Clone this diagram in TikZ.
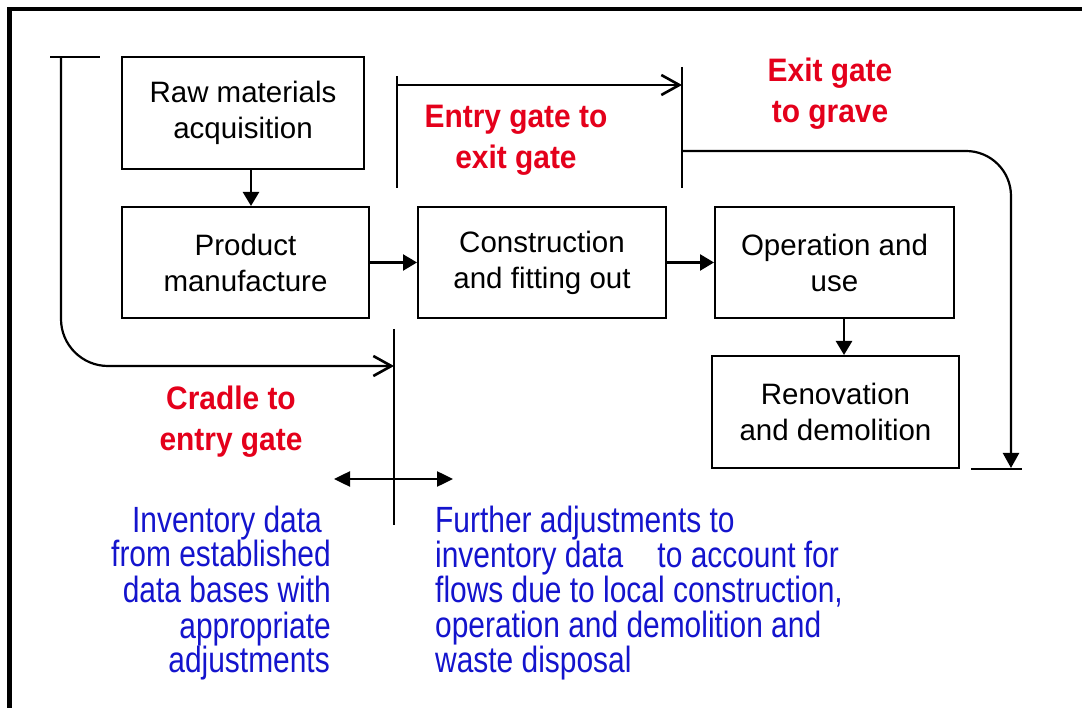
\documentclass[tikz,border=0pt]{standalone}
\usepackage{fontspec}
\setmainfont{Liberation Sans}
\newfontfamily\narrowsans{Liberation Sans}[FakeStretch=0.82]
\newfontfamily\redsans{Liberation Sans}[FakeStretch=0.92]
\usetikzlibrary{arrows.meta}
\definecolor{labelred}{RGB}{228,0,27}
\definecolor{textblue}{RGB}{20,20,205}
\begin{document}
\begin{tikzpicture}[x=1pt,y=-1pt,
  stage/.style={draw,line width=2pt,inner sep=0pt,align=center,font=\fontsize{29.5}{36}\selectfont},
  flow/.style={line width=2.5pt,-{Triangle[width=16pt,length=14pt]}},
  gate/.style={line width=1.8pt},
  scopearrow/.style={line width=2.2pt,-{Straight Barb[length=18pt,width=20pt,line width=2.6pt]}},
  phase/.style={text=labelred,align=center,inner sep=0pt,font=\redsans\bfseries\fontsize{32.5}{41}\selectfont},
  note/.style={text=textblue,inner sep=0pt,font=\narrowsans\fontsize{36.5}{35}\selectfont}]
\useasboundingbox (0,0) rectangle (1082,708);
\draw[line width=4.5pt] (1082,9) -- (9.5,9) -- (9.5,708);

% stages
\node[stage,minimum width=242pt,minimum height=112pt] (raw) at (243,113) {Raw materials\\acquisition};
\node[stage,minimum width=247pt,minimum height=111pt] (prod) at (245.5,262.5) {Product\\manufacture};
\node[stage,minimum width=248pt,minimum height=111pt] (con) at (542,262.5) {Construction\\and fitting out};
\node[stage,minimum width=239pt,minimum height=111pt] (op) at (834.5,262.5) {Operation and\\use};
\node[stage,minimum width=247pt,minimum height=112pt] (ren) at (835.5,412) {Renovation\\and demolition};

\draw[flow] ([xshift=8pt]raw.south) -- ([xshift=8pt]raw.south |- prod.north);
\draw[flow] (prod.east) -- (con.west);
\draw[flow] (con.east) -- (op.west);
\draw[flow] ([xshift=9.5pt]op.south) -- ([xshift=9.5pt]op.south |- ren.north);

% gate coordinates
\coordinate (cradleTop) at (61,57);
\coordinate (cradleTickL) at (50,57);
\coordinate (cradleTickR) at (100,57);
\coordinate (cradleArrow) at (394,366);
\coordinate (entryTop) at (397,76);
\coordinate (entryBot) at (397,188);
\coordinate (entryArrow) at (397,85);
\coordinate (exitTop) at (682,67);
\coordinate (exitBot) at (682,188);
\coordinate (exitMid) at (682,151);
\coordinate (gateTop) at (394,329);
\coordinate (gateBot) at (394,525);
\coordinate (graveEnd) at (1011,468);
\coordinate (graveTickL) at (971,469);
\coordinate (graveTickR) at (1022,469);
\coordinate (dblL) at (334,479);
\coordinate (dblR) at (453,479);

% cradle to entry gate
\draw[gate] (cradleTickL) -- (cradleTickR);
\draw[scopearrow,rounded corners=47pt] (cradleTop) -- (cradleTop |- cradleArrow) -- (cradleArrow);
\draw[gate] (gateTop) -- (gateBot);

% entry gate to exit gate
\draw[gate] (entryTop) -- (entryBot);
\draw[scopearrow] (entryArrow) -- (entryArrow -| exitTop);
\draw[gate] (exitTop) -- (exitBot);

% exit gate to grave
\draw[line width=2.2pt,rounded corners=45pt,-{Triangle[width=16pt,length=15pt]}] (exitMid) -- (exitMid -| graveEnd) -- (graveEnd);
\draw[gate] (graveTickL) -- (graveTickR);

% double arrow
\draw[line width=2.5pt,{Triangle[width=15pt,length=16pt]}-{Triangle[width=15pt,length=16pt]}] (dblL) -- (dblR);

% phase labels
\node[phase] (entryLbl) at (516,140) {Entry gate to\\exit gate};
\node[phase] (exitLbl) at (830,93.5) {Exit gate\\to grave};
\node[phase] (cradleLbl) at (231,422) {Cradle to\\entry gate};

% notes
\node[note,align=right,anchor=east] (noteL) at (331,593) {Inventory data\hspace*{9pt}\\[-1pt]from established\hspace*{6pt}\\[1pt]data bases with\\[1pt]appropriate\hspace*{4pt}\\[-1pt]adjustments\hspace*{1pt}};
\node[note,align=left,anchor=west] (noteR) at (435,593) {Further adjustments to\\inventory data\hspace*{26pt} to account for\\flows due to local construction,\\operation and demolition and\\waste disposal};
\end{tikzpicture}
\end{document}
